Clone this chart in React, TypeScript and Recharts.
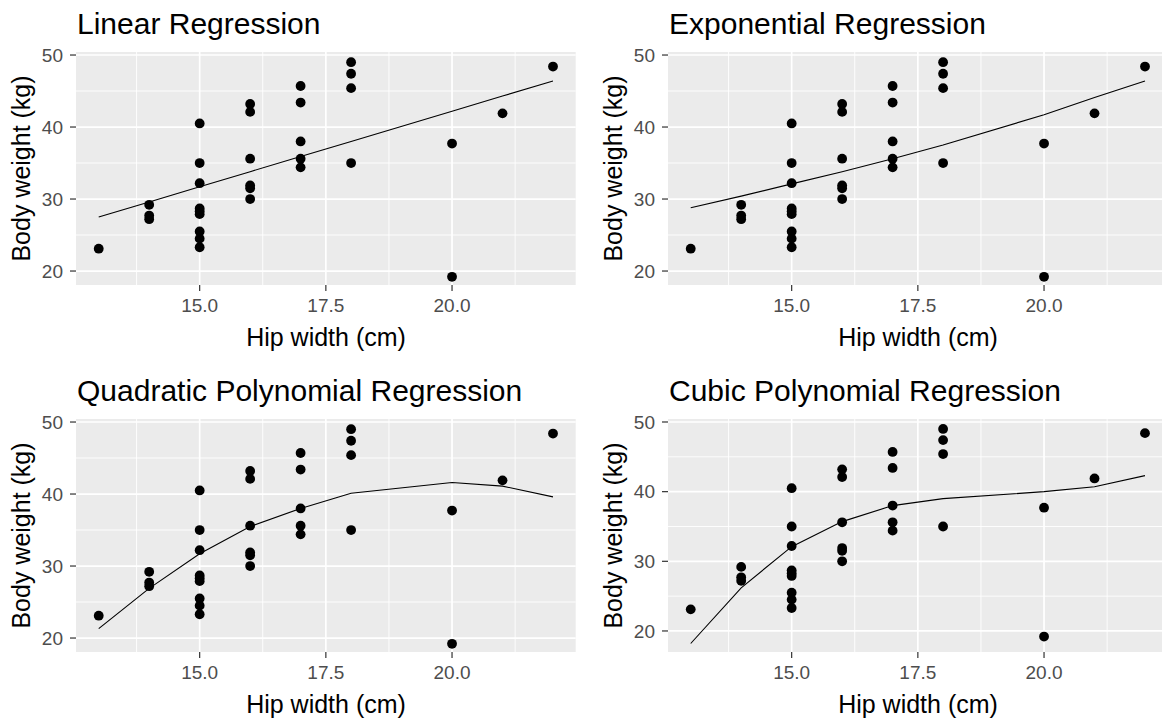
import React from 'react';
import {
  ComposedChart,
  Scatter,
  Line,
  XAxis,
  YAxis,
  ReferenceArea,
  ReferenceLine,
} from 'recharts';

// observed data: hip width (cm) and body weight (kg)
const hipWidth = [
  13,
  14, 14, 14,
  15, 15, 15, 15, 15, 15, 15, 15, 15,
  16, 16, 16, 16, 16, 16,
  17, 17, 17, 17, 17,
  18, 18, 18, 18,
  20, 20,
  21,
  22,
];
const bodyWeight = [
  23.1,
  29.2, 27.7, 27.2,
  40.5, 35.0, 32.2, 28.7, 28.3, 27.9, 25.5, 24.5, 23.3,
  43.2, 42.1, 35.6, 31.9, 31.5, 30.0,
  45.7, 43.4, 38.0, 35.6, 34.4,
  49.0, 47.4, 45.4, 35.0,
  37.7, 19.2,
  41.9,
  48.4,
];

// fitted curves, read at each distinct hip width
const fitX = [13, 14, 15, 16, 17, 18, 20, 21, 22];
const linearFit = [27.5, 29.6, 31.7, 33.8, 35.9, 38.0, 42.2, 44.3, 46.4];
const exponentialFit = [28.8, 30.4, 32.1, 33.8, 35.6, 37.5, 41.7, 44.1, 46.4];
const quadraticFit = [21.3, 26.9, 31.7, 35.5, 38.0, 40.1, 41.6, 41.1, 39.6];
const cubicFit = [18.2, 26.2, 32.1, 35.7, 38.0, 39.0, 40.0, 40.7, 42.3];

const xTicks = [15, 17.5, 20];
const xMinor = [13.75, 16.25, 18.75, 21.25];
const yTicks = [20, 30, 40, 50];
const yMinor = [25, 35, 45];

const X_DOMAIN: [number, number] = [12.55, 22.45];
const FONT = '"Liberation Sans", Arial, Helvetica, sans-serif';

const points = hipWidth.map((x, i) => ({ x, y: bodyWeight[i] }));
const toLine = (ys: number[]) => fitX.map((x, i) => ({ x, y: ys[i] }));

const Dot = (props: any) => <circle cx={props.cx} cy={props.cy} r={4.9} fill="#000" />;

interface PanelProps {
  title: string;
  left: number;
  top: number;
  fit: number[];
  yDomain: [number, number];
}

function Panel({ title, left, top, fit, yDomain }: PanelProps) {
  return (
    <div style={{ position: 'absolute', left, top, width: 592, height: 367 }}>
      <ComposedChart
        width={590}
        height={360}
        margin={{ top: 52, right: 14.3, bottom: 35, left: 0 }}
        style={{ fontFamily: FONT }}
      >
        <XAxis
          type="number"
          dataKey="x"
          domain={X_DOMAIN}
          ticks={xTicks}
          allowDataOverflow
          tickFormatter={(v: number) => v.toFixed(1)}
          height={40}
          axisLine={false}
          tickSize={6}
          tickMargin={8}
          tickLine={{ stroke: '#333333', strokeWidth: 1.2 }}
          tick={{ fill: '#4D4D4D', fontSize: 19 }}
        />
        <YAxis
          type="number"
          dataKey="y"
          domain={yDomain}
          ticks={yTicks}
          allowDataOverflow
          width={76}
          axisLine={false}
          tickSize={6}
          tickMargin={7}
          tickLine={{ stroke: '#333333', strokeWidth: 1.2 }}
          tick={{ fill: '#4D4D4D', fontSize: 19 }}
        />
        <ReferenceArea
          x1={X_DOMAIN[0]}
          x2={X_DOMAIN[1]}
          y1={yDomain[0]}
          y2={yDomain[1]}
          fill="#EBEBEB"
          fillOpacity={1}
          stroke="none"
        />
        {yMinor.map((v) => (
          <ReferenceLine key={`ym${v}`} y={v} stroke="#FFFFFF" strokeWidth={0.9} />
        ))}
        {xMinor.map((v) => (
          <ReferenceLine key={`xm${v}`} x={v} stroke="#FFFFFF" strokeWidth={0.9} />
        ))}
        {yTicks.map((v) => (
          <ReferenceLine key={`y${v}`} y={v} stroke="#FFFFFF" strokeWidth={1.7} />
        ))}
        {xTicks.map((v) => (
          <ReferenceLine key={`x${v}`} x={v} stroke="#FFFFFF" strokeWidth={1.7} />
        ))}
        <Scatter data={points} dataKey="y" shape={<Dot />} isAnimationActive={false} />
        <Line
          data={toLine(fit)}
          dataKey="y"
          type="linear"
          stroke="#000000"
          strokeWidth={1.1}
          dot={false}
          activeDot={false}
          isAnimationActive={false}
        />
      </ComposedChart>
      <svg
        width={592}
        height={367}
        style={{ position: 'absolute', left: 0, top: 0, pointerEvents: 'none', fontFamily: FONT }}
      >
        <text x={77} y={34} fontSize={30} fill="#000">
          {title}
        </text>
        <text
          transform="translate(30, 168.5) rotate(-90)"
          textAnchor="middle"
          fontSize={25}
          fill="#000"
        >
          Body weight (kg)
        </text>
        <text x={326} y={346} textAnchor="middle" fontSize={25} fill="#000">
          Hip width (cm)
        </text>
      </svg>
    </div>
  );
}

export default function App() {
  return (
    <div
      style={{
        position: 'absolute',
        left: 0,
        top: 0,
        width: 1162,
        height: 719,
        overflow: 'hidden',
        background: '#FFFFFF',
      }}
    >
      <Panel title="Linear Regression" left={0} top={0} fit={linearFit} yDomain={[18.06, 50.42]} />
      <Panel title="Exponential Regression" left={591.7} top={0} fit={exponentialFit} yDomain={[18.06, 50.42]} />
      <Panel title="Quadratic Polynomial Regression" left={0} top={367} fit={quadraticFit} yDomain={[18.06, 50.42]} />
      <Panel title="Cubic Polynomial Regression" left={591.7} top={367} fit={cubicFit} yDomain={[16.98, 50.43]} />
    </div>
  );
}
